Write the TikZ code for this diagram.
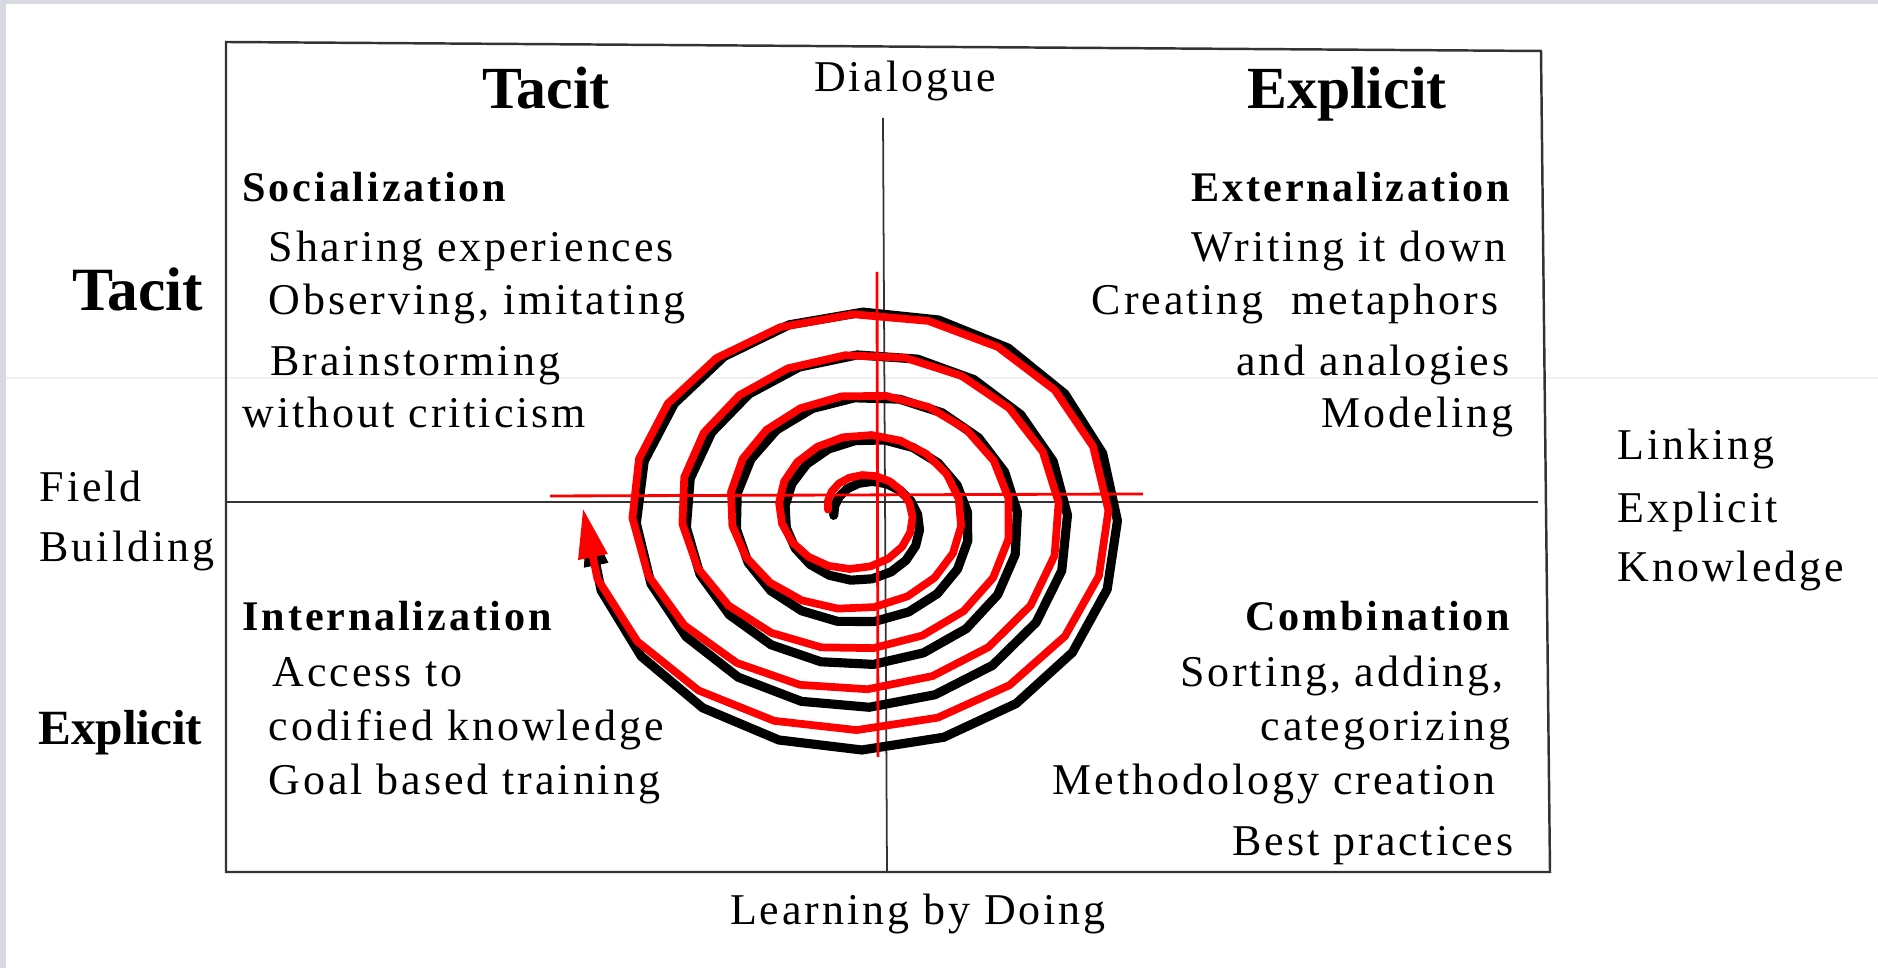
\documentclass[tikz,border=0pt]{standalone}
\usepackage{fontspec}
\setmainfont{Liberation Serif}
\newfontfamily\spaced[LetterSpace=6.7]{Liberation Serif}
\usepackage{xcolor}
\usetikzlibrary{arrows.meta}
\definecolor{shot}{HTML}{D6D9DF}

\begin{document}
\begin{tikzpicture}[x=0.01cm, y=-0.01cm,
	itemtxt/.style={inner sep=0pt, font=\spaced\fontsize{12.5}{15}\selectfont},
	quadhead/.style={inner sep=0pt, font=\spaced\bfseries\fontsize{12}{14}\selectfont},
	axishead/.style={inner sep=0pt, font=\bfseries\fontsize{17}{20}\selectfont},
	boxline/.style={draw=black!80, line width=0.7pt},
	spiral/.style={line width=#1, line join=round, line cap=round}]

			\useasboundingbox (0,0) rectangle (1878,968);
			\fill[shot] (0,0) rectangle (1878,4);
			\fill[shot] (0,0) rectangle (6,968);
			\draw[gray!12, line width=0.4pt] (6,378) -- (1878,378);

			\draw[boxline] (226,42) -- (1541,51) -- (1550,872) -- (226,872) -- cycle;
			\draw[boxline] (226,502) -- (1538,502);
			\draw[boxline, line width=0.5pt] (883,118) -- (887,872);

			\draw[black, spiral=2.6pt, -{Triangle[length=5mm, width=2.2mm]}] plot[domain=-80:1711, samples=100] ({864.4+(42.2+0.1378*\x)*sin(\x)}, {520.4-(38.4+0.118*\x)*cos(\x)});
			\draw[red, spiral=2.2pt, -{Triangle[length=5mm, width=2.8mm]}] plot[domain=-85:1711, samples=100] ({858+0.99*(42.2+0.1378*\x)*sin(\x)}, {512-0.95*(38.4+0.118*\x)*cos(\x)});
			\draw[red, line width=0.8pt] (550,496) -- (1143,494);
			\draw[red, line width=0.8pt] (877,272) -- (878,757);

			\node[axishead, anchor=base] (tacitTop) at (546,109) {Tacit};
			\node[axishead, anchor=base] (explicitTop) at (1347,109) {Explicit};
			\node[itemtxt, anchor=base] (dialogue) at (905,92) {Dialogue};
			\node[axishead, anchor=base east, font=\bfseries\fontsize{17.5}{20}\selectfont] (tacitSide) at (204,311) {Tacit};
			\node[axishead, anchor=base east, font=\bfseries\fontsize{14}{17}\selectfont] (explicitSide) at (203,745) {Explicit};
			\node[itemtxt, anchor=base west] (field) at (39,502) {Field};
			\node[itemtxt, anchor=base west] (building) at (39,562) {Building};
			\node[itemtxt, anchor=base west] (linking) at (1617,460) {Linking};
			\node[itemtxt, anchor=base west] (linkExplicit) at (1617,523) {Explicit};
			\node[itemtxt, anchor=base west] (knowledge) at (1617,582) {Knowledge};
			\node[itemtxt, anchor=base] (learning) at (918,925) {Learning by Doing};

			\node[quadhead, anchor=base west] (socialization) at (242,202) {Socialization};
			\node[itemtxt, anchor=base west] (sharing) at (268,262) {Sharing experiences};
			\node[itemtxt, anchor=base west] (observing) at (268,315) {Observing, imitating};
			\node[itemtxt, anchor=base west] (brainstorm) at (270,376) {Brainstorming};
			\node[itemtxt, anchor=base west] (criticism) at (242,428) {without criticism};

			\node[quadhead, anchor=base east] (externalization) at (1511,202) {Externalization};
			\node[itemtxt, anchor=base east] (writing) at (1507,262) {Writing it down};
			\node[itemtxt, anchor=base east] (metaphors) at (1499,315) {Creating\ \ metaphors};
			\node[itemtxt, anchor=base east] (analogies) at (1510,376) {and analogies};
			\node[itemtxt, anchor=base east] (modeling) at (1514,428) {Modeling};

			\node[quadhead, anchor=base west] (internalization) at (242,631) {Internalization};
			\node[itemtxt, anchor=base west] (access) at (272,687) {Access to};
			\node[itemtxt, anchor=base west] (codified) at (268,741) {codified knowledge};
			\node[itemtxt, anchor=base west] (goal) at (268,795) {Goal based training};

			\node[quadhead, anchor=base east] (combination) at (1511,631) {Combination};
			\node[itemtxt, anchor=base east] (sorting) at (1504,687) {Sorting, adding,};
			\node[itemtxt, anchor=base east] (categorizing) at (1511,741) {categorizing};
			\node[itemtxt, anchor=base east] (methodology) at (1496,795) {Methodology creation};
			\node[itemtxt, anchor=base east] (practices) at (1514,856) {Best practices};
		\end{tikzpicture}
\end{document}
